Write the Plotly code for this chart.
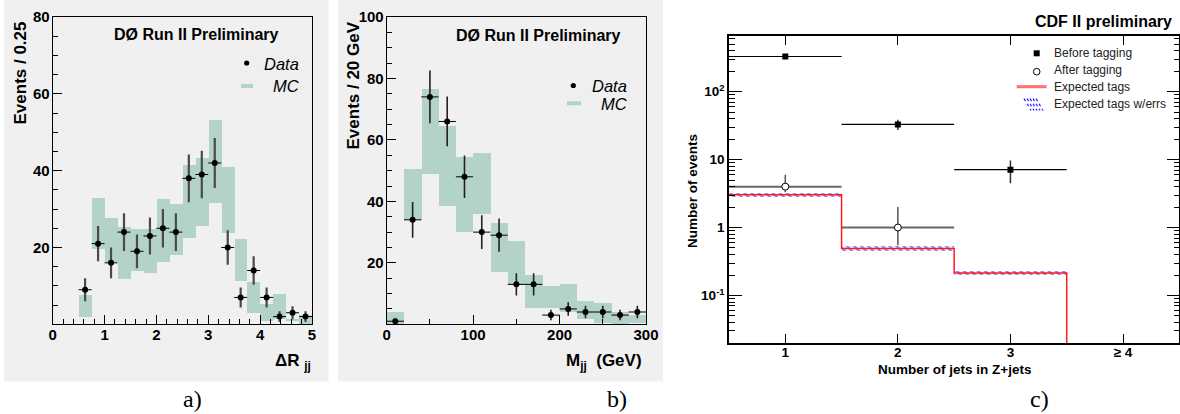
import plotly.graph_objects as go

W, H = 1180, 414

# ---------------- Panel a: Delta R_jj ----------------
dr_centers = [0.625, 0.875, 1.125, 1.375, 1.625, 1.875, 2.125, 2.375, 2.625,
              2.875, 3.125, 3.375, 3.625, 3.875, 4.125, 4.375, 4.625, 4.875]
dr_data = [9, 21, 16, 24, 19, 23, 25, 24, 38, 39, 42, 20, 7, 14, 7, 2, 3, 2]
dr_err = [3.0, 4.6, 4.0, 4.9, 4.4, 4.8, 5.0, 4.9, 6.2, 6.2, 6.5, 4.5, 2.6, 3.7, 2.6, 1.4, 1.7, 1.4]
dr_mc_lo = [2.0, 19.6, 16.2, 11.8, 13.9, 13.4, 16.2, 18.0, 22.5, 25.6, 31.6, 23.8, 11.3, 3.0, 0.95, 1.4, 0.9, 0.0]
dr_mc_hi = [7.6, 32.8, 27.8, 25.3, 24.8, 24.8, 32.6, 31.3, 41.5, 43.3, 53.2, 41.0, 22.2, 11.0, 5.3, 7.9, 1.4, 2.4]
dr_ticks = [0, 1, 2, 3, 4, 5]
dr_yticks = [20, 40, 60, 80]

# ---------------- Panel b: M_jj ----------------
m_centers = [10, 30, 50, 70, 90, 110, 130, 150, 170, 190, 210, 230, 250, 270, 290]
m_data = [1, 34, 74, 66, 48, 30, 29, 13, 13, 3, 5, 4, 4, 3, 4]
m_err = [1.0, 5.8, 8.6, 8.1, 6.9, 5.5, 5.4, 3.6, 3.6, 1.7, 2.2, 2.0, 2.0, 1.7, 2.0]
m_mc_lo = [0.0, 33.9, 49.0, 38.5, 30.0, 35.8, 17.0, 12.7, 5.3, 5.3, 4.0, 1.7, 0.4, 0.0, 0.4]
m_mc_hi = [3.9, 50.6, 76.5, 64.5, 54.4, 55.7, 33.0, 27.0, 16.0, 12.4, 13.0, 7.5, 6.8, 3.9, 3.0]
m_ticks = [0, 100, 200, 300]
m_yticks = [20, 40, 60, 80, 100]

# ---------------- Panel c: number of jets ----------------
nj = [1, 2, 3]
before = [330, 33, 7.1]
before_err = [18, 5.7, 2.6]
nj_after = [1, 2]
after = [4.0, 1.0]
after_err_up = [2.0, 1.0]
after_err_dn = [0.7, 0.45]
exp_edges = [0.5, 1.5, 2.5, 3.5]
exp_tags = [3.05, 0.49, 0.215]
exp_err = [0.22, 0.036, 0.016]
nj_tickvals = [1, 2, 3, 4]
nj_ticktext = ["<b>1</b>", "<b>2</b>", "<b>3</b>", "<b>\u2265 4</b>"]
c_ytickvals = [0.1, 1, 10, 100]
c_yticktext = ["<b>10<sup>-1</sup></b>", "<b>1</b>", "<b>10</b>", "<b>10<sup>2</sup></b>"]

MC_GREEN = "#b3d3ca"
PANEL_GRAY = "#f0f0f0"
FONT = "Liberation Sans"


def fx(p):
    return p / W


def fy(p):
    return 1 - p / H


fig = go.Figure()

# ---- panel a traces
fig.add_trace(go.Bar(x=dr_centers, y=[h - l for h, l in zip(dr_mc_hi, dr_mc_lo)], base=dr_mc_lo,
                     width=0.25, marker=dict(color=MC_GREEN, line=dict(width=0)),
                     xaxis="x", yaxis="y", showlegend=False))
fig.add_trace(go.Scatter(x=dr_centers, y=dr_data, mode="markers",
                         marker=dict(color="black", size=6),
                         error_y=dict(type="data", array=dr_err, color="#4a4a4a", thickness=2.2, width=0),
                         error_x=dict(type="constant", value=0.125, color="black", thickness=1, width=0),
                         xaxis="x", yaxis="y", showlegend=False))

# ---- panel b traces
fig.add_trace(go.Bar(x=m_centers, y=[h - l for h, l in zip(m_mc_hi, m_mc_lo)], base=m_mc_lo,
                     width=20, marker=dict(color=MC_GREEN, line=dict(width=0)),
                     xaxis="x2", yaxis="y2", showlegend=False))
fig.add_trace(go.Scatter(x=m_centers, y=m_data, mode="markers",
                         marker=dict(color="black", size=6),
                         error_y=dict(type="data", array=m_err, color="#222", thickness=1.6, width=0),
                         error_x=dict(type="constant", value=10, color="black", thickness=1, width=0),
                         xaxis="x2", yaxis="y2", showlegend=False))

# ---- panel c traces
exp_centers = [(a + b) / 2 for a, b in zip(exp_edges[:-1], exp_edges[1:])]
fig.add_trace(go.Bar(x=exp_centers, y=[2 * e for e in exp_err],
                     base=[v - e for v, e in zip(exp_tags, exp_err)], width=1.0,
                     marker=dict(color="rgba(255,255,255,0)", line=dict(width=0),
                                 pattern=dict(shape="\\", fgcolor="#1010ff", bgcolor="rgba(255,255,255,0)",
                                              size=5, solidity=0.5, fillmode="overlay")),
                     xaxis="x3", yaxis="y3", showlegend=False))
step_x = exp_edges + [exp_edges[-1]]
step_y = exp_tags + [exp_tags[-1], 1e-3]
fig.add_trace(go.Scatter(x=step_x, y=step_y, mode="lines", line=dict(color="#ff1a1a", width=1.5, shape="hv"),
                         xaxis="x3", yaxis="y3", showlegend=False))
fig.add_trace(go.Scatter(x=nj, y=before, mode="markers",
                         marker=dict(color="black", symbol="square", size=6),
                         error_y=dict(type="data", array=before_err, color="#333", thickness=1.5, width=0),
                         error_x=dict(type="constant", value=0.5, color="black", thickness=1.2, width=0),
                         xaxis="x3", yaxis="y3", showlegend=False))
fig.add_trace(go.Scatter(x=nj_after, y=after, mode="markers",
                         marker=dict(color="white", symbol="circle", size=7, line=dict(color="black", width=1)),
                         error_y=dict(type="data", array=after_err_up, arrayminus=after_err_dn,
                                      color="#555", thickness=1.5, width=0),
                         error_x=dict(type="constant", value=0.5, color="#666", thickness=2, width=0),
                         xaxis="x3", yaxis="y3", showlegend=False))

# minor tick positions for log axis
c_minor = []
for d in [-2, -1, 0, 1, 2]:
    for k in range(2, 10):
        c_minor.append(k * 10 ** d)

tickfont_ab = dict(family=FONT, size=15, color="black", weight="bold")
common = dict(showgrid=False, zeroline=False, showline=True, linecolor="black", linewidth=1,
              ticks="inside", tickcolor="black", tickwidth=1, automargin=False)

yA = [fy(324.3), fy(17)]
fig.update_layout(
    width=W, height=H, autosize=False,
    margin=dict(l=0, r=0, t=0, b=0, pad=0, autoexpand=False),
    paper_bgcolor="white", plot_bgcolor="white",
    barmode="overlay", bargap=0,
    font=dict(family=FONT, color="black"),
    xaxis=dict(domain=[fx(52.7), fx(312)], range=[0, 5], anchor="y", tickvals=dr_ticks,
               ticklen=9, mirror=True, tickfont=tickfont_ab, ticklabelstandoff=-3,
               minor=dict(tickmode="linear", tick0=0, dtick=0.2, ticklen=5, ticks="inside", tickcolor="black"),
               **common),
    yaxis=dict(domain=yA, range=[0, 80], anchor="x", tickvals=dr_yticks,
               ticklen=9, mirror=True, tickfont=tickfont_ab, ticklabelstandoff=-1,
               minor=dict(tickmode="linear", tick0=0, dtick=5, ticklen=5, ticks="inside", tickcolor="black"),
               **common),
    xaxis2=dict(domain=[fx(386.7), fx(646)], range=[0, 300], anchor="y2", tickvals=m_ticks,
                ticklen=9, mirror=True, tickfont=tickfont_ab, ticklabelstandoff=-3,
                minor=dict(tickmode="linear", tick0=0, dtick=50, ticklen=5, ticks="inside", tickcolor="black"),
                **common),
    yaxis2=dict(domain=yA, range=[0, 100], anchor="x2", tickvals=m_yticks,
                ticklen=9, mirror=True, tickfont=tickfont_ab, ticklabelstandoff=-1,
                minor=dict(tickmode="linear", tick0=0, dtick=5, ticklen=5, ticks="inside", tickcolor="black"),
                **common),
    xaxis3=dict(domain=[fx(729), fx(1179.3)], range=[0.5, 4.5], anchor="y3",
                tickvals=nj_tickvals, ticktext=nj_ticktext, ticklen=9,
                tickfont=dict(family=FONT, size=13.5, color="black"), ticklabelstandoff=-4,
                showgrid=False, zeroline=False, showline=True, linecolor="black", linewidth=1.5,
                ticks="inside", tickcolor="black", tickwidth=1, mirror="ticks", automargin=False),
    yaxis3=dict(domain=[fy(343), fy(36)], type="log", range=[-1.7, 2.82], anchor="x3",
                tickvals=c_ytickvals, ticktext=c_yticktext, ticklen=13,
                tickfont=dict(family=FONT, size=13.5, color="black"), ticklabelstandoff=0,
                minor=dict(tickmode="array", tickvals=c_minor, ticklen=6, ticks="inside", tickcolor="black"),
                showgrid=False, zeroline=False, showline=True, linecolor="black", linewidth=1.5,
                ticks="inside", tickcolor="black", tickwidth=1, mirror="ticks", automargin=False),
)

shapes = []
# gray panel backgrounds
shapes.append(dict(type="rect", xref="paper", yref="paper", x0=fx(4), x1=fx(328.5), y0=fy(381.5), y1=fy(0),
                   fillcolor=PANEL_GRAY, line=dict(width=0), layer="below"))
shapes.append(dict(type="rect", xref="paper", yref="paper", x0=fx(338), x1=fx(663), y0=fy(381.5), y1=fy(0),
                   fillcolor=PANEL_GRAY, line=dict(width=0), layer="below"))


def legend_ab(shapes, box, dot, sw):
    bx0, by0, bx1, by1 = box
    shapes.append(dict(type="rect", xref="paper", yref="paper", x0=fx(bx0), x1=fx(bx1), y0=fy(by1), y1=fy(by0),
                       fillcolor="#efefef", line=dict(width=0), layer="above"))
    shapes.append(dict(type="circle", xref="paper", yref="paper", x0=fx(dot[0] - 2.6), x1=fx(dot[0] + 2.6),
                       y0=fy(dot[1] + 2.6), y1=fy(dot[1] - 2.6), fillcolor="black", line=dict(width=0),
                       layer="above"))
    shapes.append(dict(type="line", xref="paper", yref="paper", x0=fx(sw[0]), x1=fx(sw[1]), y0=fy(sw[2]),
                       y1=fy(sw[2]), line=dict(color=MC_GREEN, width=4), layer="above"))


legend_ab(shapes, (237.7, 55, 302.7, 94), (246.7, 63), (241, 253, 86))
legend_ab(shapes, (565, 75, 630, 113.3), (573.3, 85.5), (567, 581, 103.3))

# panel c legend glyphs
shapes.append(dict(type="rect", xref="paper", yref="paper", x0=fx(1033.7), x1=fx(1039.7), y0=fy(56.3),
                   y1=fy(50.3), fillcolor="black", line=dict(width=0)))
shapes.append(dict(type="circle", xref="paper", yref="paper", x0=fx(1033.4), x1=fx(1040.0), y0=fy(75.0),
                   y1=fy(68.4), fillcolor="white", line=dict(color="black", width=1)))
shapes.append(dict(type="line", xref="paper", yref="paper", x0=fx(1016.7), x1=fx(1046.7), y0=fy(86.7),
                   y1=fy(86.7), line=dict(color="#ff7070", width=3)))
for i in range(5):
    shapes.append(dict(type="line", xref="paper", yref="paper", x0=fx(1024 + 3 * i), x1=fx(1031 + 3 * i),
                       y0=fy(98.5), y1=fy(110.5), line=dict(color="#2020ff", width=1.2, dash="dot")))

fig.update_layout(shapes=shapes)

anns = []


def ann(text, x, y, size, xanchor="center", yanchor="middle", angle=0, family=FONT, color="black"):
    anns.append(dict(text=text, x=fx(x), y=fy(y), xref="paper", yref="paper", showarrow=False,
                     xanchor=xanchor, yanchor=yanchor, textangle=angle,
                     font=dict(family=family, size=size, color=color)))


# panel a texts
ann("<b>D\u00d8 Run II Preliminary</b>", 196, 34, 16)
ann("<i>Data</i>", 301, 63.5, 16.5, xanchor="right")
ann("<i>MC</i>", 301, 86, 16.5, xanchor="right")
ann("<b>Events / 0.25</b>", 20, 73.5, 17, angle=-90)
ann("<b>\u0394R <sub>jj</sub></b>", 313, 362, 17, xanchor="right")
ann("a)", 192.5, 399, 24, family="Liberation Serif")

# panel b texts
ann("<b>D\u00d8 Run II Preliminary</b>", 538, 36, 16)
ann("<i>Data</i>", 628.5, 86, 16.5, xanchor="right")
ann("<i>MC</i>", 628.5, 103.5, 16.5, xanchor="right")
ann("<b>Events / 20 GeV</b>", 352.5, 86, 17, angle=-90)
ann("<b>M<sub>jj</sub>  (GeV)</b>", 644, 362, 17, xanchor="right")
ann("b)", 617, 399, 24, family="Liberation Serif")

# panel c texts
ann("<b>CDF II preliminary</b>", 1174, 21, 16, xanchor="right")
ann("Before tagging", 1051.7, 52.7, 12, xanchor="left", color="#222")
ann("After tagging", 1051.7, 70.5, 12, xanchor="left", color="#222")
ann("Expected tags", 1051.7, 87, 12, xanchor="left", color="#222")
ann("Expected tags w/errs", 1051.7, 104, 12, xanchor="left", color="#222")
ann("<b>Number of events</b>", 692, 191, 13.5, angle=-90)
ann("<b>Number of jets in Z+jets</b>", 954, 369, 13.5)
ann("c)", 1039, 399, 24, family="Liberation Serif")

fig.update_layout(annotations=anns)

fig.write_html("out.html", config={"displayModeBar": False},
               post_script="document.body.style.margin='0px';document.body.style.overflow='hidden';")
